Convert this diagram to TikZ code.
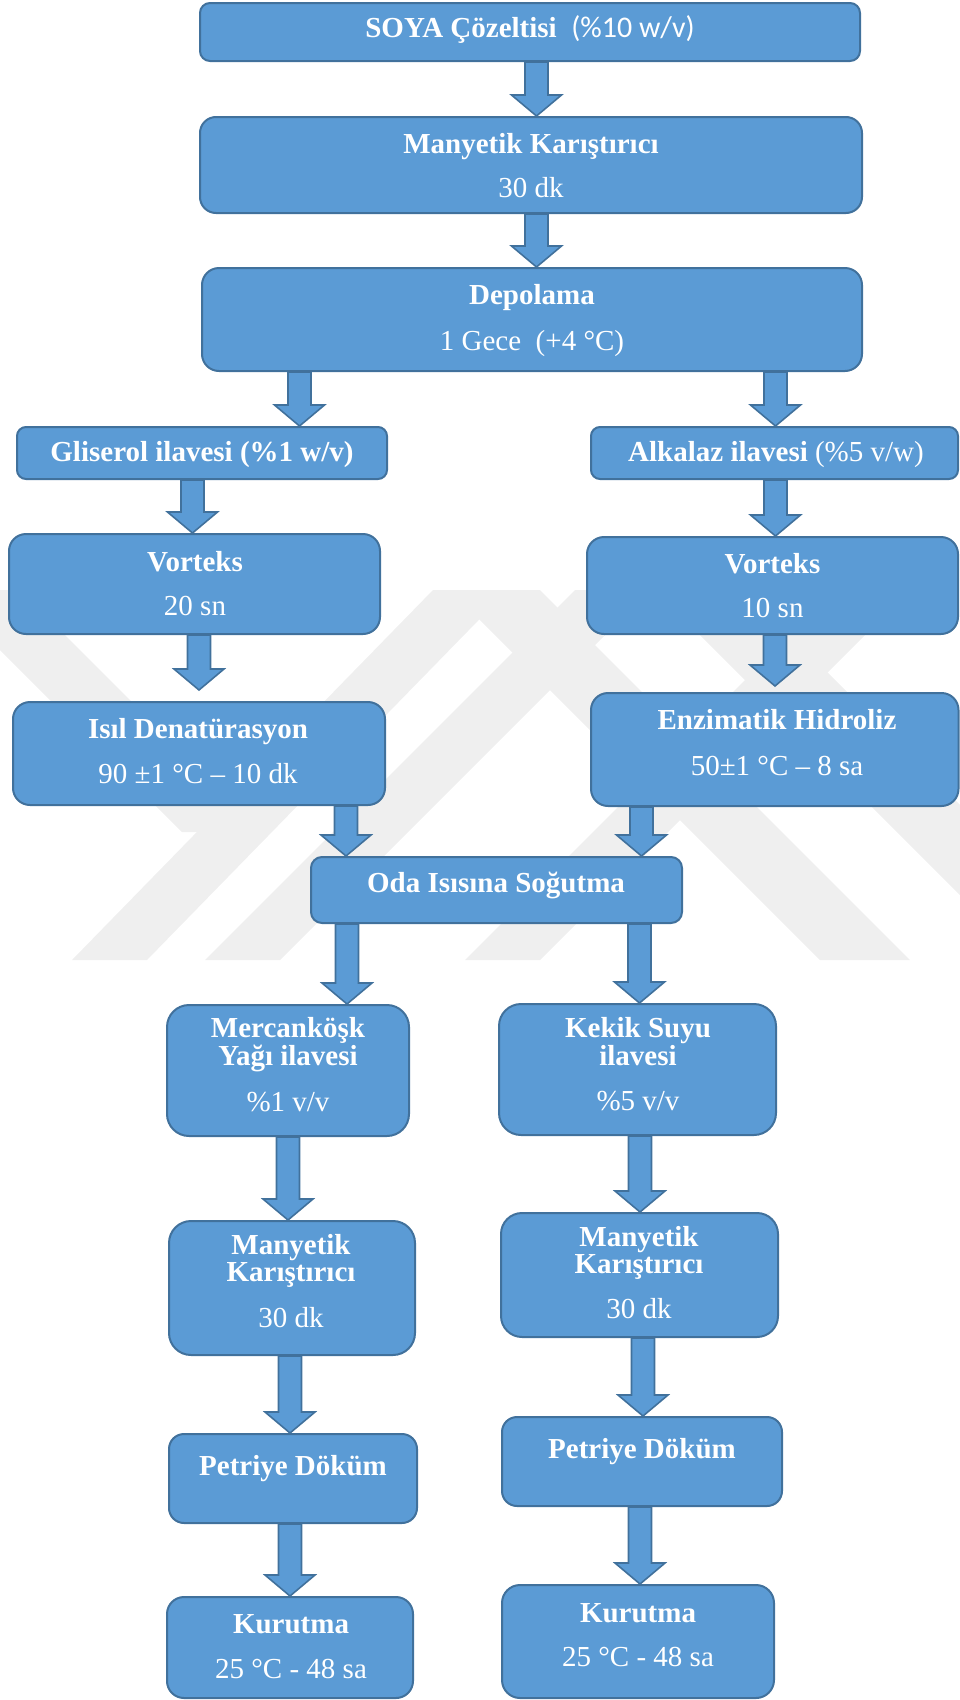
\documentclass[tikz,border=0pt]{standalone}
\usepackage{fontspec}
\setmainfont{Liberation Serif}
\newfontfamily\calfont{Carlito}
\usetikzlibrary{calc}
\definecolor{boxfill}{HTML}{5B9BD5}
\definecolor{boxline}{HTML}{41719C}
\definecolor{wmark}{HTML}{EFEFEF}
\newcommand\tightlines{\lineskiplimit=-60pt\relax\lineskip=0pt\relax}
\tikzset{
  boxsty/.style={rectangle, draw=boxline, fill=boxfill, line width=2pt, inner sep=0pt},
  arrsty/.style={draw=boxline, fill=boxfill, line width=1.6pt, line join=miter},
  ttl/.style={text=white, inner sep=0pt, anchor=base, font=\fontsize{29}{29}\selectfont\bfseries},
  ttltwo/.style={text=white, inner sep=0pt, anchor=base, align=center, font=\fontsize{29}{22}\selectfont\bfseries},
  sub/.style={text=white, inner sep=0pt, anchor=base, font=\fontsize{29}{29}\selectfont},
  wm/.style={fill=wmark, draw=none}
}
\newcommand\pbox[6]{\node[boxsty, minimum width={(#4-#2)*1pt}, minimum height={(#5-#3)*1pt}, rounded corners=#6pt] (#1) at ({(#2+#4)/2},{(#3+#5)/2}) {};}
\newcommand\barrow[4]{%
  \filldraw[arrsty] let \p1=(#1.south), \p2=(#2.north) in
   ({(#3-11.5)*1pt},\y1) -- ({(#3+11.5)*1pt},\y1) -- ({(#3+11.5)*1pt},{\y2+(#4+21)*1pt})
   -- ({(#3+25)*1pt},{\y2+(#4+21)*1pt}) -- ({#3*1pt},{\y2+#4*1pt})
   -- ({(#3-25)*1pt},{\y2+(#4+21)*1pt}) -- ({(#3-11.5)*1pt},{\y2+(#4+21)*1pt}) -- cycle;}
\begin{document}
\begin{tikzpicture}[x=1pt,y=-1pt]
\useasboundingbox (0,0) rectangle (960,1700);
\begin{scope}
\clip (0,0) rectangle (960,1700);
\fill[wm] (-60,590) -- (20,590) -- (262,832) -- (182,832) -- cycle;
\fill[wm] (433,590) -- (508,590) -- (147,960) -- (72,960) -- cycle;
\fill[wm] (575,590) -- (650,590) -- (280,960) -- (205,960) -- cycle;
\fill[wm] (835,590) -- (910,590) -- (540,960) -- (465,960) -- cycle;
\fill[wm] (450,590) -- (540,590) -- (910,960) -- (820,960) -- cycle;
\fill[wm] (655,590) -- (745,590) -- (1115,960) -- (1025,960) -- cycle;
\end{scope}

\pbox{soya}{200}{3}{860}{61}{10}
\node[ttl] (soyaT) at (530,37) {SOYA Çözeltisi\ \ {\calfont\mdseries\fontsize{30}{30}\selectfont(\%10 w/v)}};

\pbox{mka}{200}{117}{862}{213}{16}
\node[ttl] (mkaT) at (531,153) {Manyetik Karıştırıcı};
\node[sub] (mkaS) at (531,197) {30 dk};

\pbox{dep}{202}{268}{862}{371}{17}
\node[ttl] (depT) at (532,304) {Depolama};
\node[sub] (depS) at (532,350) {1 Gece\ \ (+4 °C)};

\pbox{gli}{17}{427}{387}{479}{9}
\node[ttl] (gliT) at (202,461) {Gliserol ilavesi (\%1 w/v)};
\pbox{alk}{591}{427}{958}{479}{9}
\node[ttl] (alkT) at (776,461) {Alkalaz ilavesi {\mdseries (\%5 v/w)}};

\pbox{vl}{9}{534}{380}{634}{17}
\node[ttl] (vlT) at (195,571) {Vorteks};
\node[sub] (vlS) at (195,615) {20 sn};
\pbox{vr}{587}{537}{958}{634}{17}
\node[ttl] (vrT) at (772.5,573) {Vorteks};
\node[sub] (vrS) at (772.5,617) {10 sn};

\pbox{isl}{13}{702}{385}{805}{17}
\node[ttl] (islT) at (198,738) {Isıl Denatürasyon};
\node[sub] (islS) at (198,783) {90 ±1 °C – 10 dk};
\pbox{enz}{591}{693}{958.5}{806}{17}
\node[ttl] (enzT) at (777,729) {Enzimatik Hidroliz};
\node[sub] (enzS) at (777,775) {50±1 °C – 8 sa};

\pbox{oda}{311}{857}{682}{923}{11}
\node[ttl] (odaT) at (496,892) {Oda Isısına Soğutma};

\pbox{mer}{167}{1005}{409}{1136}{22}
\node[ttltwo] (merT) at (288,1065) {\tightlines Mercanköşk\\Yağı ilavesi};
\node[sub] (merS) at (288,1111) {\%1 v/v};
\pbox{kek}{499}{1004}{776}{1135}{22}
\node[ttltwo] (kekT) at (638,1065) {\tightlines Kekik Suyu\\ilavesi};
\node[sub] (kekS) at (638,1110) {\%5 v/v};

\pbox{mkl}{169}{1221}{415}{1355}{22}
\node[ttltwo] (mklT) at (291,1281) {\tightlines Manyetik\\Karıştırıcı};
\node[sub] (mklS) at (291,1327) {30 dk};
\pbox{mkr}{501}{1213}{778}{1337}{21}
\node[ttltwo] (mkrT) at (639,1273) {\tightlines Manyetik\\Karıştırıcı};
\node[sub] (mkrS) at (639,1318) {30 dk};

\pbox{ptl}{169}{1434}{417}{1523}{15}
\node[ttl] (ptlT) at (293,1475) {Petriye Döküm};
\pbox{ptr}{502}{1417}{782}{1506}{15}
\node[ttl] (ptrT) at (642,1458) {Petriye Döküm};

\pbox{kul}{167}{1597}{413}{1698}{17}
\node[ttl] (kulT) at (291,1633) {Kurutma};
\node[sub] (kulS) at (291,1678) {25 °C - 48 sa};
\pbox{kur}{502}{1585}{774}{1698}{18}
\node[ttl] (kurT) at (638,1622) {Kurutma};
\node[sub] (kurS) at (638,1666) {25 °C - 48 sa};

\barrow{soya}{mka}{536.5}{0}
\barrow{mka}{dep}{536.5}{0}
\barrow{dep}{gli}{299.5}{0}
\barrow{dep}{alk}{775.5}{0}
\barrow{gli}{vl}{192.5}{0}
\barrow{alk}{vr}{775.5}{0}
\barrow{vl}{isl}{199}{11}
\barrow{vr}{enz}{775}{6}
\barrow{isl}{oda}{346}{0}
\barrow{enz}{oda}{641.5}{0}
\barrow{oda}{mer}{347}{0}
\barrow{oda}{kek}{639.5}{0}
\barrow{mer}{mkl}{288}{0}
\barrow{kek}{mkr}{640}{0}
\barrow{mkl}{ptl}{290}{0}
\barrow{mkr}{ptr}{643}{0}
\barrow{ptl}{kul}{290}{0}
\barrow{ptr}{kur}{640}{0}
\end{tikzpicture}
\end{document}
